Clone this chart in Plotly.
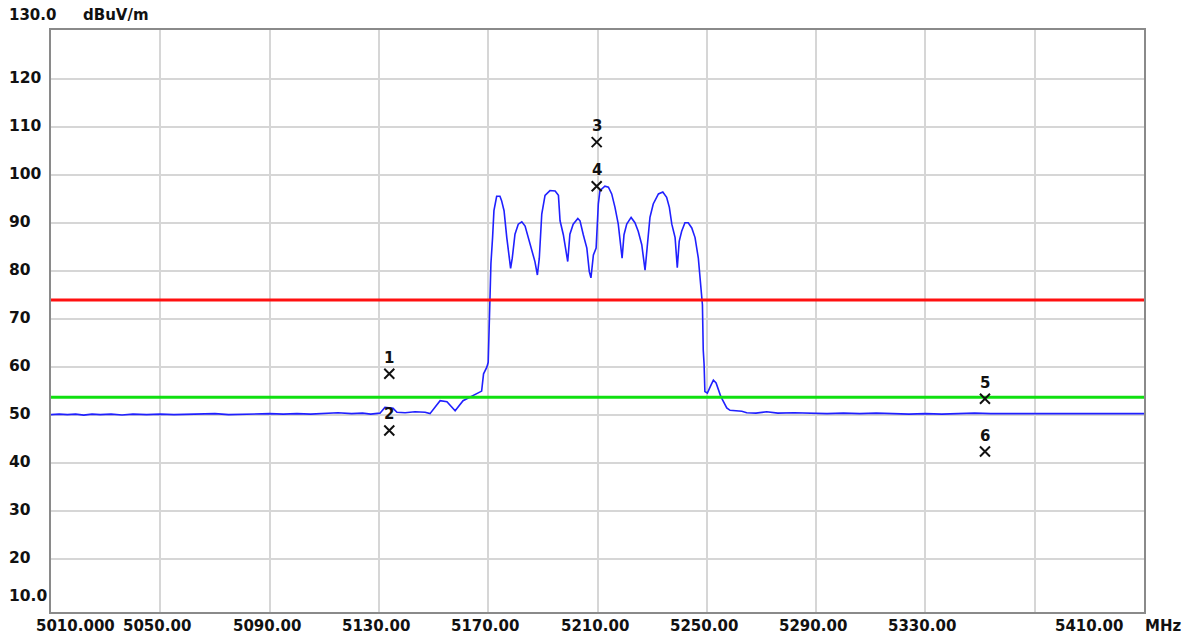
import plotly.graph_objects as go

# ---------------- data ----------------
FREQ_MHZ = [
    5010.0, 5013.0, 5016.0, 5019.0, 5022.0, 5025.0, 5028.0, 5032.0, 5036.0, 5040.0,
    5045.0, 5050.0, 5055.0, 5060.0, 5065.0, 5070.0, 5075.0, 5080.0, 5085.0, 5090.0,
    5095.0, 5100.0, 5105.0, 5110.0, 5115.0, 5120.0, 5124.0, 5127.0, 5129.3,
    5130.4, 5132.2, 5135.2, 5136.6, 5139.6, 5143.2, 5146.9, 5148.7, 5152.4, 5154.9,
    5157.9, 5160.8, 5164.5, 5167.6, 5168.3, 5169.5, 5170.0, 5170.7, 5171.0, 5171.6,
    5172.1, 5173.1, 5174.3, 5174.9, 5175.8, 5176.8, 5177.4, 5178.2, 5178.8, 5179.8,
    5181.0, 5182.3, 5183.5, 5184.7, 5185.9, 5187.1, 5188.0, 5188.7, 5189.6, 5190.8,
    5192.6, 5194.5, 5195.7, 5196.3, 5197.5, 5198.5, 5199.1, 5199.9, 5201.1, 5202.8,
    5203.6, 5204.8, 5206.1, 5207.0, 5207.6, 5208.5, 5209.5, 5210.3, 5210.9, 5212.7,
    5214.0, 5215.2, 5216.4, 5217.6, 5218.5, 5219.0, 5219.7, 5220.7, 5222.3, 5223.7,
    5224.9, 5226.2, 5227.4, 5228.2, 5229.2, 5230.4, 5232.3, 5233.9, 5235.3, 5236.3,
    5237.2, 5238.4, 5239.2, 5239.9, 5240.8, 5242.0, 5243.2, 5244.5, 5245.7, 5246.9,
    5247.5, 5248.1, 5248.4, 5248.7, 5249.0, 5249.3, 5250.2, 5251.4, 5252.4, 5253.4,
    5254.2, 5255.1, 5256.0, 5257.3, 5258.5, 5262.8, 5264.6, 5268.0, 5271.9, 5276.0,
    5282.0, 5288.0, 5294.0, 5300.0, 5306.0, 5312.0, 5318.0, 5324.0, 5330.0, 5336.0,
    5342.0, 5348.0, 5354.0, 5360.0, 5366.0, 5372.0, 5378.0, 5384.0, 5390.0, 5396.0,
    5402.0, 5406.0, 5410.0,
]
LEVEL_DBUV = [
    50.1, 50.2, 50.1, 50.2, 50.0, 50.2, 50.1, 50.2, 50.0, 50.2,
    50.1, 50.2, 50.1, 50.2, 50.2, 50.3, 50.1, 50.2, 50.2, 50.3,
    50.2, 50.3, 50.2, 50.3, 50.5, 50.3, 50.4, 50.2, 50.3,
    50.4, 51.6, 51.4, 50.6, 50.5, 50.7, 50.6, 50.3, 53.0, 52.8,
    50.9, 53.0, 54.1, 55.0, 58.6, 60.0, 61.0, 74.0, 81.6, 87.0,
    92.6, 95.6, 95.6, 94.7, 92.6, 87.0, 84.1, 80.6, 82.7, 87.7,
    89.8, 90.3, 89.4, 86.9, 84.8, 82.0, 79.2, 82.7, 91.9, 95.8,
    96.8, 96.7, 95.8, 90.5, 87.6, 84.1, 82.0, 87.7, 89.8, 91.0,
    90.5, 87.6, 84.8, 79.9, 78.6, 83.4, 84.8, 94.0, 96.8, 97.7,
    97.5, 96.1, 93.3, 89.8, 84.8, 82.7, 87.6, 89.8, 91.2, 90.1,
    88.3, 85.5, 80.2, 85.5, 91.2, 94.0, 96.1, 96.5, 95.4, 93.3,
    89.8, 87.0, 80.7, 86.2, 88.3, 90.1, 90.1, 89.0, 87.0, 82.7,
    78.5, 75.7, 73.0, 63.5, 60.7, 54.9, 54.6, 56.1, 57.3, 56.7,
    55.3, 53.9, 52.9, 51.5, 51.0, 50.8, 50.5, 50.4, 50.7, 50.4,
    50.5, 50.4, 50.3, 50.4, 50.3, 50.4, 50.3, 50.2, 50.3, 50.2,
    50.3, 50.4, 50.3, 50.3, 50.4, 50.3, 50.4, 50.3, 50.4, 50.3,
    50.4, 50.3, 50.3,
]

LIMIT_PEAK = 74.0      # red line
LIMIT_AVG = 53.7       # green line

MARKER_ID = ["1", "2", "3", "4", "5", "6"]
MARKER_FREQ = [5133.8, 5133.8, 5209.7, 5209.7, 5351.8, 5351.8]
MARKER_LEVEL = [58.6, 46.8, 106.9, 97.7, 53.4, 42.4]

X_TICKS = [5010, 5050, 5090, 5130, 5170, 5210, 5250, 5290, 5330, 5410]
X_TICK_LABELS = ["5010.000", "5050.00", "5090.00", "5130.00", "5170.00",
                 "5210.00", "5250.00", "5290.00", "5330.00", "5410.00"]
X_GRID = [5050, 5090, 5130, 5170, 5210, 5250, 5290, 5330, 5370]
Y_TICKS = [120, 110, 100, 90, 80, 70, 60, 50, 40, 30, 20]
Y_TICK_LABELS = ["120", "110", "100", "90", "80", "70", "60", "50", "40", "30", "20"]
Y_TOP_LABEL = "130.0"
Y_BOTTOM_LABEL = "10.0"
Y_UNIT = "dBuV/m"
X_UNIT = "MHz"

X_MIN, X_MAX = 5010, 5410
Y_MIN, Y_MAX = 8.95, 130.27

FONT = dict(family="DejaVu Sans", size=15, color="#111111", weight="bold")
FONT_Y = dict(family="DejaVu Sans", size=15.5, color="#111111", weight="bold")

fig = go.Figure()

fig.add_trace(go.Scatter(
    x=FREQ_MHZ, y=LEVEL_DBUV, mode="lines",
    line=dict(color="#2020ff", width=1.6), hoverinfo="skip", showlegend=False,
))
fig.add_trace(go.Scatter(
    x=[X_MIN, X_MAX], y=[LIMIT_PEAK, LIMIT_PEAK], mode="lines",
    line=dict(color="#ff1010", width=3), showlegend=False,
))
fig.add_trace(go.Scatter(
    x=[X_MIN, X_MAX], y=[LIMIT_AVG, LIMIT_AVG], mode="lines",
    line=dict(color="#10e010", width=3), showlegend=False,
))
fig.add_trace(go.Scatter(
    x=MARKER_FREQ, y=MARKER_LEVEL, mode="markers",
    marker=dict(symbol="x-thin", size=10, line=dict(width=2, color="#111111"),
                color="#111111"),
    showlegend=False,
))

annotations = []
for mid, mf, ml in zip(MARKER_ID, MARKER_FREQ, MARKER_LEVEL):
    annotations.append(dict(x=mf, y=ml, xref="x", yref="y", text=mid,
                            showarrow=False, yshift=16, font=FONT))

# y tick labels (left aligned at the left edge of the figure)
for v, t in zip(Y_TICKS, Y_TICK_LABELS):
    annotations.append(dict(x=0, y=v, xref="x domain", yref="y", text=t,
                            showarrow=False, xanchor="left", yanchor="middle",
                            xshift=-44, yshift=1, font=FONT_Y))
annotations.append(dict(x=0, y=10, xref="x domain", yref="y", text=Y_BOTTOM_LABEL,
                        showarrow=False, xanchor="left", yanchor="middle",
                        xshift=-44, yshift=11, font=FONT_Y))
annotations.append(dict(x=0, y=130, xref="x domain", yref="y", text=Y_TOP_LABEL,
                        showarrow=False, xanchor="left", yanchor="middle",
                        xshift=-44, yshift=16, font=FONT))
annotations.append(dict(x=0, y=130, xref="x domain", yref="y", text=Y_UNIT,
                        showarrow=False, xanchor="left", yanchor="middle",
                        xshift=30, yshift=16, font=FONT))

# x tick labels
for i, (v, t) in enumerate(zip(X_TICKS, X_TICK_LABELS)):
    if i == 0:
        anchor, shift = "left", -17
    elif i == len(X_TICKS) - 1:
        anchor, shift = "right", -19
    else:
        anchor, shift = "center", -3
    annotations.append(dict(x=v, y=0, xref="x", yref="y domain", text=t,
                            showarrow=False, xanchor=anchor, yanchor="middle",
                            xshift=shift, yshift=-14, font=FONT))
annotations.append(dict(x=X_MAX, y=0, xref="x", yref="y domain", text=X_UNIT,
                        showarrow=False, xanchor="left", yanchor="middle",
                        xshift=-1, yshift=-14, font=FONT))

fig.update_layout(
    width=1188, height=638,
    margin=dict(l=51, r=44, t=30, b=26, autoexpand=False),
    paper_bgcolor="white", plot_bgcolor="white",
    annotations=annotations,
    showlegend=False,
    xaxis=dict(range=[X_MIN, X_MAX], tickmode="array", tickvals=X_GRID,
               showticklabels=False, ticks="", showgrid=True,
               gridcolor="#d6d6d6", gridwidth=1.5, zeroline=False,
               showline=True, linecolor="#8a8a8a", linewidth=2, mirror=True,
               fixedrange=True),
    yaxis=dict(range=[Y_MIN, Y_MAX], tickmode="array", tickvals=Y_TICKS,
               showticklabels=False, ticks="", showgrid=True,
               gridcolor="#d6d6d6", gridwidth=1.5, zeroline=False,
               showline=True, linecolor="#8a8a8a", linewidth=2, mirror=True,
               fixedrange=True),
)

fig.write_html(
    "out.html",
    config={"displayModeBar": False},
    post_script="document.body.style.margin='0';document.body.style.padding='0';"
                "document.body.style.overflow='hidden';",
)
